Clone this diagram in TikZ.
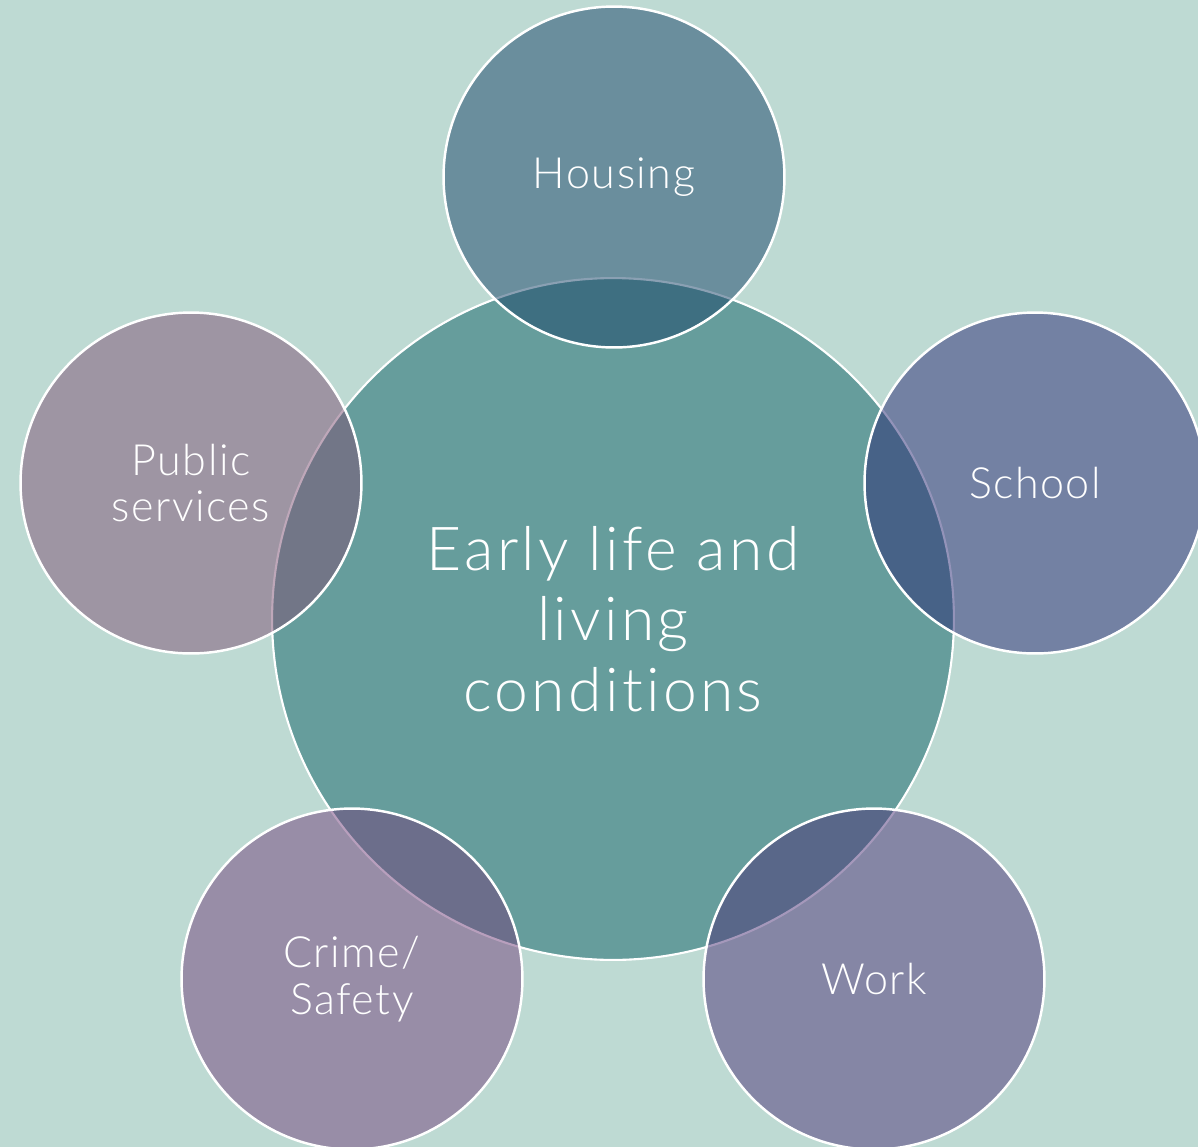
\documentclass[tikz,border=0pt]{standalone}
\usepackage{fontspec}
\setmainfont{Lato}[UprightFont=* Light, Ligatures=NoCommon]
\usetikzlibrary{positioning}

\definecolor{bgmint}{HTML}{BEDAD3}
\definecolor{hubteal}{HTML}{669D9C}
\definecolor{housingblue}{HTML}{174368}
\definecolor{schoolblue}{HTML}{292974}
\definecolor{publicmauve}{HTML}{7F5174}
\definecolor{crimeplum}{HTML}{73417C}
\definecolor{workviolet}{HTML}{4D3378}

\begin{document}
\begin{tikzpicture}[
  x=0.02cm, y=-0.02cm,
  hub/.style={circle, draw=white, line width=1.2pt, fill=hubteal, minimum size=13.64cm, inner sep=0pt, align=center, text=white, font=\fontsize{34.5}{40}\selectfont\addfontfeatures{LetterSpace=5.5}},
  petal/.style={circle, draw=white, line width=1.4pt, fill opacity=0.5, text opacity=1, draw opacity=1, minimum size=6.82cm, inner sep=0pt, align=center, text=white, font=\fontsize{24.5}{26.7}\selectfont\addfontfeatures{LetterSpace=3.5}}
]

\useasboundingbox (0,0) rectangle (1198,1147);
\fill[bgmint] (0,0) rectangle (1198,1147);
\clip (0,0) rectangle (1198,1147);

\node[hub] (hub) at (613,619) {Early life and\\living\\conditions};

\node[petal, fill=housingblue] (housing) at (614,177) {Housing};
\node[petal, fill=schoolblue] (school) at (1035,483) {School};
\node[petal, fill=workviolet] (work) at (874,979) {Work};
\node[petal, fill=crimeplum] (crime) at (352,979) {Crime/\\Safety};
\node[petal, fill=publicmauve] (public) at (191,483) {Public\\services};

\end{tikzpicture}
\end{document}
